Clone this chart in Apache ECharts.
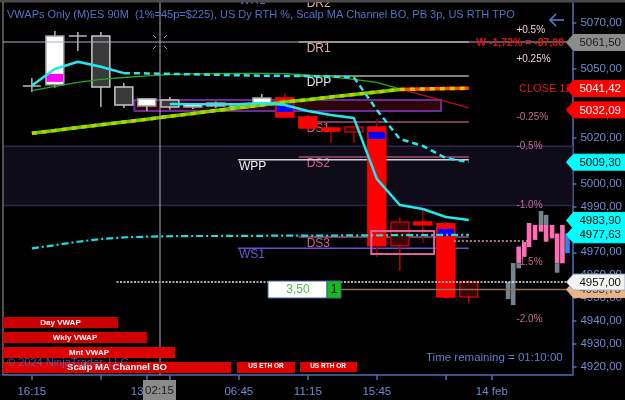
<!DOCTYPE html>
<html>
<head>
<meta charset="utf-8">
<script src="https://cdn.jsdelivr.net/npm/echarts@6/dist/echarts.min.js"></script>
<style>
html, body { margin: 0; padding: 0; background: #000; }
#main { width: 625px; height: 400px; }
</style>
</head>
<body>
<div id="main"></div>
<script>
// 90 min bars, index 0 = first bar on screen
// [bar, open, close, low, high]
var candles = [
    [0, 5042.5, 5042.5, 5039.9, 5046.0],
    [1, 5043.0, 5064.3, 5041.7, 5066.5],
    [2, 5064.3, 5064.3, 5057.8, 5066.1],
    [3, 5064.3, 5042.1, 5033.4, 5066.1],
    [4, 5042.1, 5034.2, 5032.9, 5043.8],
    [5, 5033.8, 5036.9, 5031.6, 5037.3],
    [6, 5036.4, 5033.4, 5032.1, 5037.7],
    [7, 5033.4, 5034.7, 5032.5, 5035.0],
    [8, 5033.8, 5035.1, 5032.9, 5035.8],
    [9, 5032.9, 5033.8, 5032.5, 5034.3],
    [10, 5035.1, 5037.3, 5034.5, 5039.0],
    [11, 5037.3, 5029.0, 5029.0, 5039.5],
    [12, 5029.0, 5024.2, 5023.3, 5029.9],
    [13, 5024.2, 5022.9, 5017.7, 5024.6],
    [14, 5022.5, 5024.6, 5017.7, 5025.1],
    [15, 5024.6, 4972.8, 4968.0, 5028.1],
    [16, 4972.8, 4983.2, 4961.9, 4985.4],
    [17, 4983.2, 4982.0, 4974.1, 4988.5],
    [18, 4982.4, 4950.5, 4949.6, 4983.2],
    [19, 4950.5, 4957.1, 4947.9, 4957.5]
];
// volume bands inside bodies [bar, low, high]
var pocBands = [[1, 5044.3, 5047.8], [11, 5031.2, 5035.1], [15, 5019.4, 5022.5], [18, 4977.1, 4980.2]];

var dayVwap = [5042.7, 5049.9, 5053.1, 5050.9, 5048.1, null, 5034.7, 5034.5, 5034.5, 5034.5,
               5035.1, 5034.2, 5031.6, 5029.9, 5028.6, 5002.0, 4990.6, 4988.9, 4985.4, 4984.1];
var wklyVwap = [null, null, null, null, 5048.1, 5048.0, 5047.8, 5047.6, 5047.4, 5047.2,
                5047.0, 5046.9, 5046.8, 5046.6, 5046.3, 5032.1, 5019.4, 5016.4, 5011.1, 5009.3];
var mntVwap = [4971.7, 4973.1, 4974.6, 4975.8, 4976.5, 4976.8, 4977.0, 4977.1, 4977.1, 4977.2,
               4977.2, 4977.3, 4977.3, 4977.3, 4977.4, 4977.4, 4977.5, 4977.5, 4977.6, 4977.6];
var slowMa = [5040.5, 5042.3, 5044.1, 5045.4, 5046.2, 5046.9, 5047.5, 5047.8, 5047.9, 5048.0,
              5048.0, 5047.9, 5047.3, 5046.5, 5045.4, 5044.1, 5041.2, 5038.5, 5035.8, 5033.0];
var fastMa = [5021.9, 5023.1, 5024.4, 5025.6, 5026.8, 5028.0, 5029.3, 5030.5, 5031.8, 5033.0,
              5034.2, 5035.5, 5036.5, 5037.7, 5038.8, 5039.9, 5041.0, 5041.2, 5041.4, 5041.5];
var maTurn = 16;

// current bar broken into small bars [x, low, high]
var miniPink = [[21.17, 4965.2, 4972.5], [21.41, 4968.0, 4974.5], [21.62, 4972.3, 4982.8], [21.88, 4975.4, 4981.9],
                [22.14, 4979.0, 4981.9], [22.36, 4974.6, 4981.9], [22.62, 4976.1, 4981.9], [22.84, 4965.2, 4978.2],
                [23.07, 4965.2, 4981.9]];
var miniGray = [[20.71, 4949.6, 4957.0], [20.93, 4947.0, 4965.3], [21.17, 4963.0, 4965.2], [22.14, 4981.9, 4988.0],
                [22.36, 4981.9, 4986.3], [22.84, 4961.1, 4965.2]];
var miniBlue = [[23.29, 4969.6, 4978.3]];

// pivots
var levelNames = ['WR1', 'DR2', 'DR1', 'DPP', 'DS1', 'DS2', 'WPP', 'DS3', 'WS1'];
var levelPrices = [5082.6, 5081.3, 5061.7, 5046.9, 5026.8, 5011.6, 5010.3, 4976.7, 4971.8];
var levelFrom = [8.96, 11.6, 11.6, 11.6, 11.6, 11.6, 8.96, 11.6, 8.96];
var levelTo = 19.0;

var pctLabels = ['+0.5%', '+0.25%', '-0.25%', '-0.5%', '-1.0%', '-1.5%', '-2.0%'];
var pctPrices = [5066.6, 5054.0, 5028.8, 5016.2, 4990.6, 4965.8, 4940.6];
var bandPrices = [4990.4, 5016.2];

var rangeBox = [4.46, 17.79, 5031.6, 5036.4];
var orBox = [14.76, 17.49, 4969.3, 4979.3];

var lastLine = [3.68, 4957.0];
var tanLine = [13.38, 4953.75];
var pinkDots = [18.35, 21.65, 4974.9];

var tagPrices = [5061.50, 5041.42, 5032.09, 5009.30, 4983.90, 4977.63, 4953.75, 4957.00];
var tagKinds = ['cross', 'close', 'close', 'cyan', 'cyan', 'cyan', 'tan', 'last'];

var yTicks = [4920, 4930, 4940, 4950, 4960, 4970, 4980, 4990, 5000, 5010, 5020, 5030, 5040, 5050, 5060, 5070];
var xTickBars = [0, 3, 5, 6, 9, 12, 15, 18, 20];
var xLabelBars = [0, 5, 9, 12, 15, 20];
var xLabels = ['16:15', '13 feb', '06:45', '11:15', '15:45', '14 feb'];

var FONT = 'Arial, "Liberation Sans", sans-serif';
var AXIS = '#4f6db4';
var LABEL = '#6e8cd2';

function fmt(v) { return v.toFixed(2).replace('.', ','); }
function pts(arr, from) {
    var out = [];
    for (var i = 0; i < arr.length; i++) out.push([i + from, arr[i] == null ? '-' : arr[i]]);
    return out;
}
function lineSeries(data, color, width, type, z) {
    return {
        type: 'line', data: data, showSymbol: false, silent: true, z: z || 6,
        lineStyle: {color: color, width: width, type: type || 'solid'}
    };
}
function miniSeries(rows, color) {
    return {
        type: 'custom', z: 5, silent: true, data: rows,
        renderItem: function (params, api) {
            var a = api.coord([api.value(0), api.value(2)]), b = api.coord([api.value(0), api.value(1)]);
            var w = api.size([0.2, 0])[0];
            return {type: 'rect', shape: {x: a[0] - w / 2, y: a[1], width: w, height: b[1] - a[1]}, style: {fill: color}};
        }
    };
}

var chart = echarts.init(document.getElementById('main'));

var tagStyle = {
    cross: {fill: '#8c8c8c', text: '#1a1a1a', stroke: null},
    close: {fill: '#ff0000', text: '#ffffff', stroke: null},
    cyan: {fill: '#00ffff', text: '#000000', stroke: null},
    last: {fill: '#f4f4f4', text: '#111111', stroke: '#9aa8c8'},
    tan: {fill: '#e6b487', text: '#333333', stroke: null}
};

function levelColors(name) {
    if (name === 'DPP') return ['#a8a8a8', '#e6e6e6'];
    if (name === 'WPP') return ['#d4d4d4', '#f0f0f0'];
    if (name.charAt(0) === 'W') return ['#6452d0', '#6a58d8'];
    if (name.indexOf('DR') === 0) return ['#c09090', '#e6a8a8'];
    return ['#a84c78', '#d0608a'];
}

var option = {
    backgroundColor: '#000000',
    animation: false,
    grid: {left: 3, right: 50, top: 0, bottom: 25},
    xAxis: {
        type: 'value', min: -1.255, max: 23.506,
        splitLine: {show: false},
        axisLine: {onZero: false, lineStyle: {color: AXIS, width: 1.5}},
        axisTick: {customValues: xTickBars, length: 5, lineStyle: {color: AXIS, width: 1.5}},
        axisLabel: {
            customValues: xLabelBars, color: LABEL, fontFamily: FONT, fontSize: 11.5, margin: 11,
            formatter: function (v) { return xLabels[xLabelBars.indexOf(Math.round(v))] || ''; }
        }
    },
    yAxis: {
        type: 'value', position: 'right', min: 4916.5, max: 5080.0,
        splitLine: {show: false},
        axisLine: {show: true, onZero: false, lineStyle: {color: AXIS, width: 1.5}},
        axisTick: {customValues: yTicks, length: 4, lineStyle: {color: AXIS, width: 1.5}},
        axisLabel: {
            customValues: yTicks, color: LABEL, fontFamily: FONT, fontSize: 11.5, margin: 8,
            formatter: function (v) { return fmt(v); }
        }
    },
    series: [
        // -0.5% .. -1.0% band
        {
            type: 'custom', z: 1, silent: true, data: [bandPrices],
            renderItem: function (params, api) {
                var cs = params.coordSys;
                var y1 = api.coord([0, api.value(1)])[1], y2 = api.coord([0, api.value(0)])[1];
                return {type: 'group', children: [
                    {type: 'rect', shape: {x: cs.x, y: y1, width: cs.width, height: y2 - y1}, style: {fill: '#0e0c19'}},
                    {type: 'line', shape: {x1: cs.x, y1: y1, x2: cs.x + cs.width, y2: y1}, style: {stroke: '#2e2650', lineWidth: 1.5}},
                    {type: 'line', shape: {x1: cs.x, y1: y2, x2: cs.x + cs.width, y2: y2}, style: {stroke: '#2e2650', lineWidth: 1.5}}
                ]};
            }
        },
        // range box
        {
            type: 'custom', z: 2, silent: true, data: [rangeBox],
            renderItem: function (params, api) {
                var a = api.coord([api.value(0), api.value(3)]), b = api.coord([api.value(1), api.value(2)]);
                return {type: 'rect', shape: {x: a[0], y: a[1], width: b[0] - a[0], height: b[1] - a[1]},
                        style: {fill: '#2c0508', stroke: '#6a2a9a', lineWidth: 2}};
            }
        },
        // pivot levels
        {
            type: 'custom', z: 3, silent: true,
            data: levelPrices.map(function (p, i) { return [levelFrom[i], p]; }),
            renderItem: function (params, api) {
                var name = levelNames[params.dataIndex];
                var c = levelColors(name);
                var a = api.coord([api.value(0), api.value(1)]), b = api.coord([levelTo, api.value(1)]);
                return {type: 'group', children: [
                    {type: 'line', shape: {x1: a[0], y1: a[1], x2: b[0], y2: b[1]}, style: {stroke: c[0], lineWidth: 1.5}},
                    {type: 'text', x: a[0] + (name.charAt(0) === 'D' ? 8 : 1), y: a[1] + 1,
                     style: {text: name, fill: c[1], font: '12px ' + FONT, align: 'left', verticalAlign: 'top'}}
                ]};
            }
        },
        // candles
        {
            type: 'custom', z: 4, silent: true, data: candles,
            encode: {x: 0, y: [1, 2, 3, 4]},
            renderItem: function (params, api) {
                var k = api.value(0), o = api.value(1), c = api.value(2);
                var x = api.coord([k, o])[0];
                var yO = api.coord([k, o])[1], yC = api.coord([k, c])[1];
                var yL = api.coord([k, api.value(3)])[1], yH = api.coord([k, api.value(4)])[1];
                var w = api.size([0.78, 0])[0];
                var eth = k <= 10, up = c > o;
                var wick, body, edge;
                if (eth) {
                    wick = '#b8b8b8'; body = up ? '#ffffff' : '#3a3a3a'; edge = up ? '#a0a0a0' : '#c8c8c8';
                } else {
                    wick = up ? '#c00000' : '#a00000'; body = up ? '#380505' : '#ff0000'; edge = up ? '#c00000' : '#ff0000';
                }
                var kids = [{type: 'line', shape: {x1: x, y1: yH, x2: x, y2: yL}, style: {stroke: wick, lineWidth: 1.5}}];
                if (Math.abs(yO - yC) < 1) {
                    kids.push({type: 'line', shape: {x1: x - w / 2, y1: yO, x2: x + w / 2, y2: yO}, style: {stroke: wick, lineWidth: 1.5}});
                } else {
                    kids.push({type: 'rect', shape: {x: x - w / 2, y: Math.min(yO, yC), width: w, height: Math.abs(yO - yC)},
                               style: {fill: body, stroke: edge, lineWidth: 1.5}});
                }
                return {type: 'group', children: kids};
            }
        },
        // bands inside bodies
        {
            type: 'custom', z: 4, silent: true, data: pocBands,
            renderItem: function (params, api) {
                var k = api.value(0);
                var a = api.coord([k, api.value(2)]), b = api.coord([k, api.value(1)]);
                var w = api.size([0.78, 0])[0] - 1.5;
                return {type: 'rect', shape: {x: a[0] - w / 2, y: a[1], width: w, height: b[1] - a[1]},
                        style: {fill: k <= 10 ? '#ff00ff' : '#0000ff'}};
            }
        },
        // opening range box
        {
            type: 'custom', z: 5, silent: true, data: [orBox],
            renderItem: function (params, api) {
                var a = api.coord([api.value(0), api.value(3)]), b = api.coord([api.value(1), api.value(2)]);
                return {type: 'rect', shape: {x: a[0], y: a[1], width: b[0] - a[0], height: b[1] - a[1]},
                        style: {fill: 'none', stroke: '#e0609e', lineWidth: 2}};
            }
        },
        // small bars of the running bar
        miniSeries(miniPink, '#ff6eb4'),
        miniSeries(miniGray, '#74848f'),
        miniSeries(miniBlue, '#2f86e8'),
        // horizontal lines
        lineSeries([[lastLine[0], lastLine[1]], [23.506, lastLine[1]]], '#e8e8e8', 1.5, [2, 1.5], 7),
        lineSeries([[tanLine[0], tanLine[1]], [23.506, tanLine[1]]], '#8c7052', 1.5, 'solid', 7),
        lineSeries([[pinkDots[0], pinkDots[2]], [pinkDots[1], pinkDots[2]]], '#d8a8a8', 1.5, [2, 2], 7),
        // moving averages
        lineSeries(pts(slowMa.slice(0, maTurn + 1), 0), '#22a822', 1.3),
        lineSeries(pts(slowMa.slice(maTurn), maTurn), '#c01010', 1.2),
        lineSeries(pts(fastMa.slice(0, maTurn + 1), 0), '#5ed400', 3.5),
        lineSeries(pts(fastMa.slice(0, maTurn + 1), 0), '#c0cc00', 3.5, [5, 5]),
        lineSeries(pts(fastMa.slice(maTurn), maTurn), '#ff4a00', 3.5),
        lineSeries(pts(fastMa.slice(maTurn), maTurn), '#e8c000', 3.5, [5, 5]),
        // vwaps
        lineSeries(pts(mntVwap, 0), '#18e0e0', 2.2, [7, 3, 2, 3]),
        lineSeries(pts(wklyVwap, 0), '#2ee6e6', 2.5, [6, 4]),
        lineSeries(pts(dayVwap, 0), '#22e8ee', 2.5),
        // percent labels
        {
            type: 'custom', z: 8, silent: true,
            data: pctPrices.map(function (p) { return [0, p]; }),
            renderItem: function (params, api) {
                var cs = params.coordSys;
                var y = api.coord([0, api.value(1)])[1];
                var txt = pctLabels[params.dataIndex];
                return {type: 'text', x: cs.x + cs.width - 56, y: y,
                        style: {text: txt, fill: txt.charAt(0) === '+' ? '#f0d2d2' : '#c86a92',
                                font: '10px ' + FONT, align: 'left', verticalAlign: 'middle'}};
            }
        },
        // price tags on the axis
        {
            type: 'custom', z: 20, silent: true,
            data: tagPrices.map(function (p) { return [0, p]; }),
            renderItem: function (params, api) {
                var cs = params.coordSys;
                var xr = cs.x + cs.width;
                var y = api.coord([0, api.value(1)])[1];
                var s = tagStyle[tagKinds[params.dataIndex]];
                return {type: 'group', children: [
                    {type: 'polygon', shape: {points: [[xr - 6, y], [xr + 1, y - 8], [625, y - 8], [625, y + 8], [xr + 1, y + 8]]},
                     style: {fill: s.fill, stroke: s.stroke || s.fill, lineWidth: 1}},
                    {type: 'text', x: xr + 7, y: y + 0.5,
                     style: {text: fmt(api.value(1)), fill: s.text, font: '11.5px ' + FONT, align: 'left', verticalAlign: 'middle'}}
                ]};
            }
        }
    ],
    graphic: [
        {type: 'rect', z: 30, shape: {x: 0, y: 0, width: 625, height: 2.5}, style: {fill: '#4a4a4a'}},
        {type: 'line', z: 30, shape: {x1: 3, y1: 2, x2: 3, y2: 375}, style: {stroke: '#9a9a9a', lineWidth: 1}},
        // crosshair
        {type: 'line', z: 9, shape: {x1: 3, y1: 42, x2: 575, y2: 42}, style: {stroke: '#aab2cc', lineWidth: 1}},
        {type: 'line', z: 9, shape: {x1: 160, y1: 2, x2: 160, y2: 375}, style: {stroke: '#aab2cc', lineWidth: 1}},
        {type: 'line', z: 9, shape: {x1: 156, y1: 38, x2: 153, y2: 35}, style: {stroke: '#a0a4b8', lineWidth: 1}},
        {type: 'line', z: 9, shape: {x1: 164, y1: 38, x2: 167, y2: 35}, style: {stroke: '#a0a4b8', lineWidth: 1}},
        {type: 'line', z: 9, shape: {x1: 156, y1: 46, x2: 153, y2: 49}, style: {stroke: '#a0a4b8', lineWidth: 1}},
        {type: 'line', z: 9, shape: {x1: 164, y1: 46, x2: 167, y2: 49}, style: {stroke: '#a0a4b8', lineWidth: 1}},
        {type: 'rect', z: 30, shape: {x: 143, y: 380, width: 33, height: 20}, style: {fill: '#8a8a8a'}},
        {type: 'text', z: 31, x: 159.5, y: 391, style: {text: '02:15', fill: '#1e1e1e', font: '11.5px ' + FONT, align: 'center', verticalAlign: 'middle'}},
        // title and arrow
        {type: 'text', z: 30, x: 7, y: 15, style: {text: 'VWAPs Only (M)ES 90M  (1%=45p=$225), US Dy RTH %, Scalp MA Channel BO, PB 3p, US RTH TPO',
            fill: '#4f74c8', font: '11px ' + FONT, verticalAlign: 'middle'}},
        {type: 'polyline', z: 30, shape: {points: [[556, 14], [550, 20], [556, 26]]}, style: {stroke: '#5a80d8', lineWidth: 1.5, fill: 'none'}},
        {type: 'line', z: 30, shape: {x1: 550, y1: 20, x2: 564, y2: 20}, style: {stroke: '#5a80d8', lineWidth: 1.5}},
        // texts near close level
        {type: 'text', z: 30, x: 564, y: 43, style: {text: 'W -1,72% = -87,00', fill: '#e01010', font: 'bold 10.5px ' + FONT, align: 'right', verticalAlign: 'middle'}},
        {type: 'text', z: 10, x: 519, y: 89, style: {text: 'CLOSE 12 FEB', fill: '#e01818', font: '11px ' + FONT, verticalAlign: 'middle'}},
        // indicator labels
        {type: 'rect', z: 30, shape: {x: 3, y: 317, width: 115, height: 11}, style: {fill: '#c80000'}},
        {type: 'text', z: 31, x: 60.5, y: 322.5, style: {text: 'Day VWAP', fill: '#ffffff', font: 'bold 8px ' + FONT, align: 'center', verticalAlign: 'middle'}},
        {type: 'rect', z: 30, shape: {x: 3, y: 332, width: 144, height: 11}, style: {fill: '#d00000'}},
        {type: 'text', z: 31, x: 75, y: 337.5, style: {text: 'Wkly VWAP', fill: '#ffffff', font: 'bold 8px ' + FONT, align: 'center', verticalAlign: 'middle'}},
        {type: 'rect', z: 30, shape: {x: 3, y: 347, width: 172, height: 11}, style: {fill: '#dc0000'}},
        {type: 'text', z: 31, x: 89, y: 352.5, style: {text: 'Mnt VWAP', fill: '#ffffff', font: 'bold 8px ' + FONT, align: 'center', verticalAlign: 'middle'}},
        {type: 'rect', z: 30, shape: {x: 3, y: 362, width: 228, height: 11}, style: {fill: '#dc0000'}},
        {type: 'text', z: 31, x: 117, y: 367.5, style: {text: 'Scalp MA Channel BO', fill: '#ffffff', font: 'bold 9.5px ' + FONT, align: 'center', verticalAlign: 'middle'}},
        {type: 'rect', z: 30, shape: {x: 237, y: 362, width: 58, height: 11}, style: {fill: '#dc0000'}},
        {type: 'text', z: 31, x: 266, y: 366, style: {text: 'US ETH OR', fill: '#ffffff', font: 'bold 6.5px ' + FONT, align: 'center', verticalAlign: 'middle'}},
        {type: 'rect', z: 30, shape: {x: 300, y: 362, width: 57, height: 10}, style: {fill: '#dc0000'}},
        {type: 'text', z: 31, x: 328, y: 366, style: {text: 'US RTH OR', fill: '#ffffff', font: 'bold 6.5px ' + FONT, align: 'center', verticalAlign: 'middle'}},
        {type: 'text', z: 32, x: 7, y: 363, style: {text: '\u00a9 2024 NinjaTrader, LLC', fill: 'rgba(80,110,190,0.8)', font: '11px ' + FONT, verticalAlign: 'middle'}},
        {type: 'text', z: 30, x: 426, y: 358, style: {text: 'Time remaining = 01:10:00', fill: '#5d7fcc', font: '11.5px ' + FONT, verticalAlign: 'middle'}},
        // quantity box
        {type: 'rect', z: 30, shape: {x: 268, y: 281, width: 59, height: 17}, style: {fill: '#ffffff', stroke: '#4060a8', lineWidth: 1}},
        {type: 'text', z: 31, x: 298, y: 290, style: {text: '3,50', fill: '#44c444', font: '12px ' + FONT, align: 'center', verticalAlign: 'middle'}},
        {type: 'rect', z: 30, shape: {x: 327, y: 281, width: 14, height: 17}, style: {fill: '#10c010', stroke: '#4060a8', lineWidth: 1}},
        {type: 'text', z: 31, x: 334, y: 290, style: {text: '1', fill: '#000000', font: '12px ' + FONT, align: 'center', verticalAlign: 'middle'}}
    ]
};

chart.setOption(option);
</script>
</body>
</html>
